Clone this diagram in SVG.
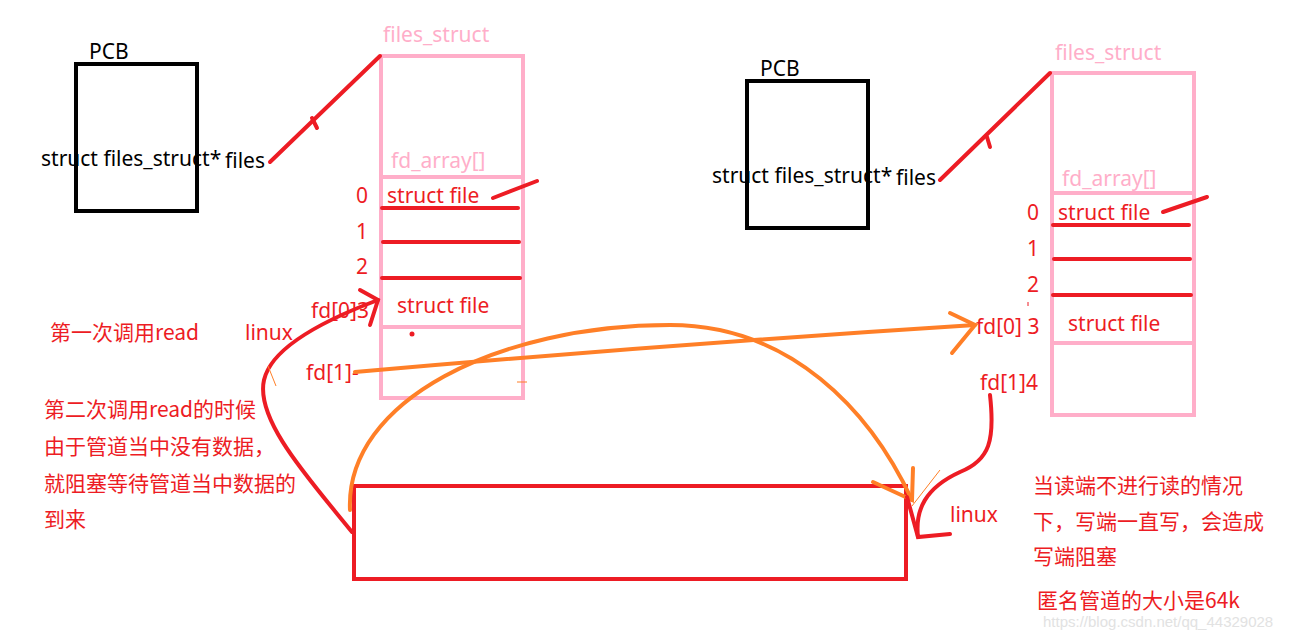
<svg xmlns="http://www.w3.org/2000/svg" width="1295" height="639" viewBox="0 0 1295 639">
<style>
text{font-family:"Noto Sans","Noto Sans CJK SC",sans-serif;font-size:21px}
.blk{fill:#000}
.red{fill:#ed1c24}
.pinkt{fill:#ffaec9}
.cjk{font-family:"Noto Sans CJK SC","Noto Sans",sans-serif;font-size:21px;fill:#ed1c24}
.pcb{fill:none;stroke:#000;stroke-width:4}
.fs{fill:none;stroke:#ffaec9;stroke-width:4}
.rl{fill:none;stroke:#ed1c24;stroke-width:4;stroke-linecap:round}
.ol{fill:none;stroke:#ff7f27;stroke-width:4;stroke-linecap:round}
.thin{fill:none;stroke:#ff7f27;stroke-width:1}
</style>
<rect width="1295" height="639" fill="#fff"/>

<g id="pcb-left">
<rect class="pcb" x="76" y="64" width="121" height="147"/>
<text class="blk" x="89" y="59">PCB</text>
<text class="blk" x="41" y="166">struct files_struct*</text>
<text class="blk" x="225" y="168">files</text>
</g>

<g id="pcb-right">
<rect class="pcb" x="747" y="81" width="121" height="147"/>
<text class="blk" x="760" y="76">PCB</text>
<text class="blk" x="712" y="183">struct files_struct*</text>
<text class="blk" x="896" y="185">files</text>
</g>

<g id="files-left">
<text class="pinkt" x="383" y="42">files_struct</text>
<rect class="fs" x="381" y="56" width="142" height="342"/>
<line class="fs" x1="381" y1="177" x2="523" y2="177"/>
<line class="fs" x1="381" y1="327" x2="523" y2="327"/>
<text class="pinkt" x="391" y="168">fd_array[]</text>
<text class="red" x="387" y="203">struct file</text>
<line class="rl" x1="382" y1="208" x2="518" y2="208"/>
<line class="rl" x1="383" y1="242" x2="519" y2="242"/>
<line class="rl" x1="382" y1="278" x2="520" y2="278"/>
<text class="red" x="397" y="313">struct file</text>
<text class="red" x="356" y="203">0</text>
<text class="red" x="356" y="239">1</text>
<text class="red" x="356" y="274">2</text>
<circle cx="412" cy="334" r="2.5" fill="#ed1c24"/>
</g>

<g id="files-right">
<text class="pinkt" x="1055" y="60">files_struct</text>
<rect class="fs" x="1052" y="73" width="142" height="342"/>
<line class="fs" x1="1052" y1="193" x2="1194" y2="193"/>
<line class="fs" x1="1052" y1="343" x2="1194" y2="343"/>
<text class="pinkt" x="1062" y="186">fd_array[]</text>
<text class="red" x="1058" y="220">struct file</text>
<line class="rl" x1="1053" y1="225" x2="1189" y2="225"/>
<line class="rl" x1="1054" y1="259" x2="1190" y2="259"/>
<line class="rl" x1="1053" y1="295" x2="1191" y2="295"/>
<text class="red" x="1068" y="331">struct file</text>
<text class="red" x="1027" y="220">0</text>
<text class="red" x="1027" y="256">1</text>
<text class="red" x="1027" y="292">2</text>
<line x1="1028" y1="302" x2="1028" y2="306" stroke="#ed1c24" stroke-width="1"/>
</g>

<g id="pipe">
<rect x="354" y="486" width="552" height="93" fill="none" stroke="#ed1c24" stroke-width="4"/>
</g>

<g id="fd-labels">
<text class="red" x="311" y="318">fd[0]3</text>
<text class="red" x="306" y="380">fd[1]-</text>
<text class="red" x="976" y="334">fd[0] 3</text>
<text class="red" x="980" y="390">fd[1]4</text>
<text class="red" x="245" y="340">linux</text>
<text class="red" x="950" y="522">linux</text>
</g>

<g id="connectors">
<line class="rl" x1="270" y1="162" x2="380" y2="56"/>
<path class="rl" d="M312,118 L317,128" stroke-width="3"/>
<line class="rl" x1="940" y1="180" x2="1050" y2="73"/>
<path class="rl" d="M987,137 L990,147" stroke-width="3"/>
<line class="rl" x1="493" y1="198" x2="537" y2="181"/>
<line class="rl" x1="1163" y1="212" x2="1207" y2="197"/>
<path class="rl" d="M352,532 C310,480 255,420 264,380 C272,345 330,318 378,300"/>
<path class="rl" d="M360,290 L378,300 L370,325"/>
<path class="ol" d="M350,510 C345,400 500,325 670,325 C790,325 870,410 912,500"/>
<path class="ol" d="M873,482 L912,500 L913,468"/>
<path class="ol" d="M355,372 Q660,345 975,325"/>
<path class="ol" d="M950,313 L975,325 L952,353"/>
<path class="rl" d="M990,395 C995,440 990,460 960,472 C925,488 915,510 918,537"/>
<path class="rl" d="M907,497 L918,537 L950,534"/>
<path class="thin" d="M912,506 L940,470"/>
<path class="thin" d="M268,366 L276,386"/>
<path class="thin" d="M517,382 L527,382"/>
</g>

<g id="notes">
<text class="cjk" x="50" y="340">第一次调用read</text>
<text class="cjk" x="44" y="417">第二次调用read的时候</text>
<text class="cjk" x="44" y="454">由于管道当中没有数据，</text>
<text class="cjk" x="44" y="491">就阻塞等待管道当中数据的</text>
<text class="cjk" x="44" y="527">到来</text>
<text class="cjk" x="1033" y="493">当读端不进行读的情况</text>
<text class="cjk" x="1033" y="529">下，写端一直写，会造成</text>
<text class="cjk" x="1033" y="564">写端阻塞</text>
<text class="cjk" x="1037" y="608">匿名管道的大小是64k</text>
<text x="1043" y="627" style="font-family:'Liberation Sans',sans-serif;font-size:15px;fill:#e2e2e2">https://blog.csdn.net/qq_44329028</text>
</g>
</svg>
